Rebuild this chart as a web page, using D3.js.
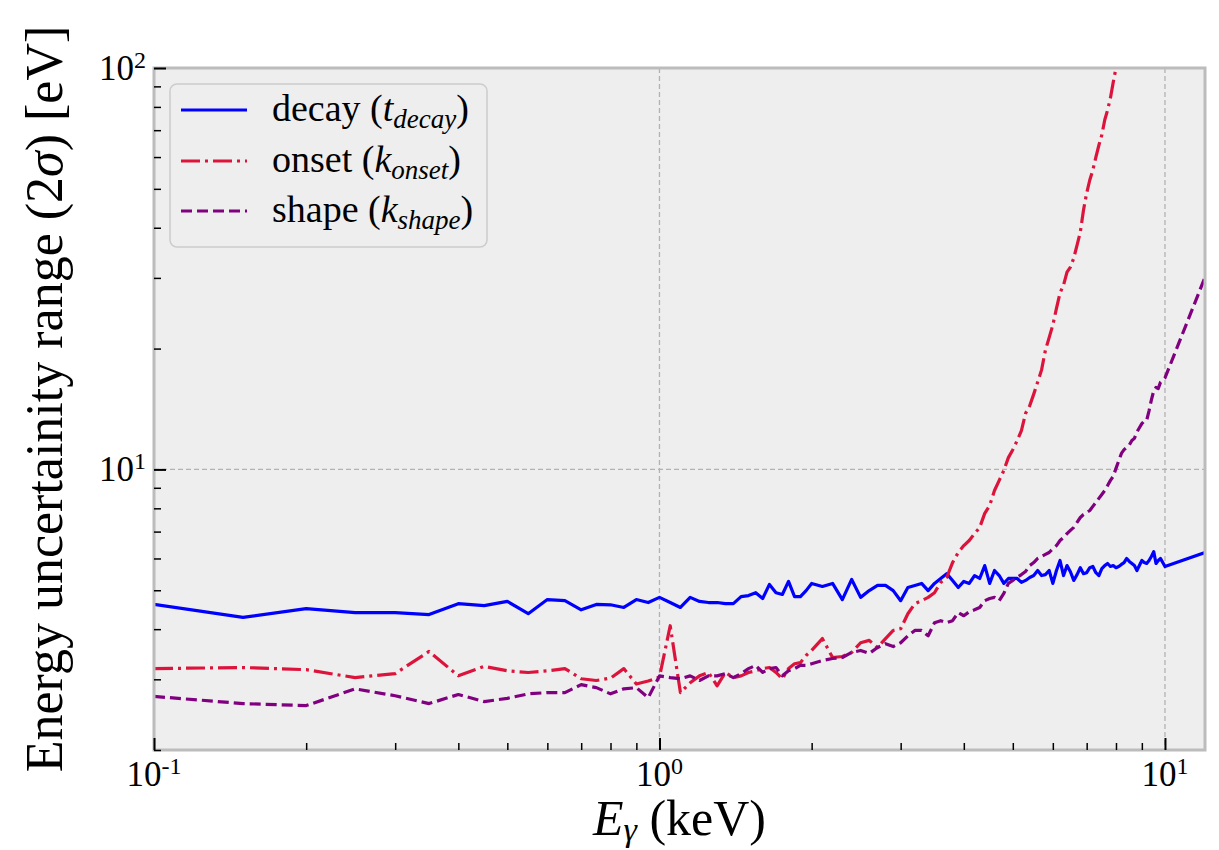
<!DOCTYPE html>
<html>
<head>
<meta charset="utf-8">
<script src="https://cdn.jsdelivr.net/npm/d3@7/dist/d3.min.js"></script>
<style>
  html, body { margin: 0; padding: 0; background: #ffffff; }
  svg { display: block; }
  text { font-family: "Liberation Serif", "Times New Roman", serif; fill: #000; }
</style>
</head>
<body>
<svg id="chart" width="1219" height="850"></svg>
<script>
// Photon energy grid (keV)
const energy = [
  0.1, 0.15, 0.2, 0.25, 0.3, 0.35, 0.4, 0.45, 0.5, 0.55, 0.6, 0.65, 0.7, 0.75, 0.8, 0.85, 0.9, 0.95,
  1.0, 1.05, 1.1, 1.15, 1.2, 1.25, 1.3, 1.35, 1.4, 1.45, 1.5, 1.55, 1.6, 1.65, 1.7, 1.75, 1.8, 1.85, 1.9, 1.95, 2.0,
  2.1, 2.2, 2.3, 2.4, 2.5, 2.6, 2.7, 2.8, 2.9, 3.0, 3.1, 3.2, 3.3, 3.4, 3.5, 3.6, 3.7, 3.8, 3.9, 4.0,
  4.1, 4.2, 4.3, 4.4, 4.5, 4.6, 4.7, 4.8, 4.9, 5.0, 5.1, 5.2, 5.3, 5.4, 5.5, 5.6, 5.7, 5.8, 5.9, 6.0,
  6.1, 6.2, 6.3, 6.4, 6.5, 6.6, 6.7, 6.8, 6.9, 7.0, 7.1, 7.2, 7.3, 7.4, 7.5, 7.6, 7.7, 7.8, 7.9, 8.0,
  8.1, 8.2, 8.3, 8.4, 8.5, 8.6, 8.7, 8.8, 8.9, 9.0, 9.1, 9.2, 9.3, 9.4, 9.5, 9.6, 9.7, 9.8, 9.9, 10.0,
  12.0
];

// 2-sigma energy uncertainty range (eV) from the decay-time parameter
const decayRange = [
  4.61, 4.28, 4.50, 4.40, 4.40, 4.35, 4.63, 4.58, 4.69, 4.37, 4.74, 4.71, 4.47, 4.61, 4.60, 4.53, 4.74, 4.66,
  4.80, 4.66, 4.53, 4.80, 4.69, 4.66, 4.66, 4.63, 4.63, 4.82, 4.85, 4.93, 4.77, 5.17, 4.93, 4.88, 5.26, 4.82, 4.82, 4.99, 5.20,
  5.11, 5.20, 4.74, 5.32, 4.80, 4.99, 5.14, 5.14, 4.99, 4.71, 5.08, 5.14, 5.20, 4.99, 5.20, 5.35, 5.50, 5.29, 5.08, 5.26,
  5.20, 5.44, 5.35, 5.76, 5.20, 5.60, 5.44, 5.20, 5.35, 5.35, 5.35, 5.23, 5.29, 5.38, 5.44, 5.60, 5.44, 5.47, 5.60, 5.20,
  5.60, 5.93, 5.44, 5.76, 5.56, 5.29, 5.47, 5.69, 5.50, 5.53, 5.69, 5.73, 5.53, 5.44, 5.66, 5.76, 5.83, 5.73, 5.76, 5.69,
  5.73, 5.80, 5.86, 6.00, 5.90, 5.83, 5.76, 5.60, 5.76, 5.93, 5.86, 5.83, 5.93, 6.07, 6.24, 5.83, 5.93, 6.00, 5.86, 5.73,
  6.21
];

// 2-sigma energy uncertainty range (eV) from the onset parameter
const onsetRange = [
  3.19, 3.21, 3.17, 3.03, 3.10, 3.52, 3.06, 3.23, 3.15, 3.12, 3.15, 3.19, 3.01, 2.98, 3.02, 3.19, 2.92, 2.97,
  3.04, 4.08, 2.78, 2.94, 3.06, 3.12, 2.89, 3.12, 3.03, 3.06, 3.12, 3.15, 3.19, 3.21, 3.12, 3.01, 3.19, 3.28, 3.30, 3.44, 3.54,
  3.79, 3.40, 3.42, 3.50, 3.70, 3.75, 3.60, 3.79, 3.97, 4.01, 4.37, 4.63, 4.71, 4.80, 4.93, 5.23, 5.38, 5.86, 6.21, 6.46,
  6.65, 6.92, 7.17, 7.77, 8.13, 8.86, 9.39, 9.94, 10.7, 11.2, 11.8, 12.5, 13.8, 14.4, 15.4, 16.5, 17.7, 19.8, 21.3, 22.9,
  25.2, 27.5, 28.8, 31.0, 31.9, 33.6, 36.2, 39.0, 44.3, 48.8, 52.6, 55.7, 60.0, 64.2, 68.1, 74.2, 78.6, 84.2, 92.2, 100,
  109, null, null, null, null, null, null, null, null, null, null, null, null, null, null, null, null, null, null, null,
  null
];

// 2-sigma energy uncertainty range (eV) from the shape parameter
const shapeRange = [
  2.72, 2.61, 2.58, 2.84, 2.73, 2.61, 2.75, 2.64, 2.69, 2.76, 2.78, 2.78, 2.91, 2.86, 2.76, 2.84, 2.86, 2.70,
  3.06, 3.03, 3.01, 3.06, 2.98, 3.06, 3.06, 3.10, 3.03, 3.10, 3.19, 3.25, 3.12, 3.19, 3.21, 3.06, 3.15, 3.19, 3.25, 3.25, 3.28,
  3.34, 3.38, 3.40, 3.50, 3.54, 3.48, 3.60, 3.68, 3.62, 3.70, 3.85, 3.97, 3.97, 3.85, 4.15, 4.20, 4.15, 4.20, 4.40, 4.32,
  4.42, 4.47, 4.53, 4.71, 4.77, 4.80, 4.71, 4.91, 5.20, 5.29, 5.38, 5.47, 5.57, 5.76, 5.86, 6.00, 6.07, 6.14, 6.21, 6.35,
  6.46, 6.65, 6.77, 6.92, 7.05, 7.17, 7.38, 7.59, 7.72, 7.81, 7.90, 8.09, 8.27, 8.47, 8.66, 8.86, 9.12, 9.39, 9.61, 10.06,
  10.5, 10.96, 11.2, 11.35, 11.5, 11.8, 11.95, 12.4, 12.7, 13.0, 13.2, 13.25, 14.0, 14.9, 15.7, 16.0, 15.9, 16.5, 16.7, 16.9,
  30.1
];

// Series descriptions for the legend: label, parameter symbol and subscript
const seriesNames = ["decay", "onset", "shape"];
const seriesSymbols = ["t", "k", "k"];
const seriesSubscripts = ["decay", "onset", "shape"];

// Axis ticks
const xMajorTicks = [0.1, 1, 10];
const xMinorTicks = [0.2, 0.3, 0.4, 0.5, 0.6, 0.7, 0.8, 0.9, 2, 3, 4, 5, 6, 7, 8, 9];
const xTickExponents = ["-1", "0", "1"];
const yMajorTicks = [10, 100];
const yMinorTicks = [2, 3, 4, 5, 6, 7, 8, 9, 20, 30, 40, 50, 60, 70, 80, 90];
const yTickExponents = ["1", "2"];

const svg = d3.select("#chart");
const plot = { left: 154, right: 1205, top: 68, bottom: 750 };

const x = d3.scaleLog().domain([0.1, 12]).range([plot.left, plot.right]);
const y = d3.scaleLog().domain([2, 100]).range([plot.bottom, plot.top]);

// Axes background
svg.append("rect")
  .attr("x", plot.left).attr("y", plot.top)
  .attr("width", plot.right - plot.left).attr("height", plot.bottom - plot.top)
  .attr("fill", "#eeeeee");

// Major grid, dashed
const grid = svg.append("g").attr("stroke", "#b2b2b2").attr("stroke-width", 1.3).attr("stroke-dasharray", "5,3");
xMajorTicks.forEach(v => grid.append("line")
  .attr("x1", x(v)).attr("x2", x(v)).attr("y1", plot.top).attr("y2", plot.bottom));
yMajorTicks.forEach(v => grid.append("line")
  .attr("x1", plot.left).attr("x2", plot.right).attr("y1", y(v)).attr("y2", y(v)));

// Clip region for the curves
svg.append("defs").append("clipPath").attr("id", "plotClip")
  .append("rect")
  .attr("x", plot.left).attr("y", plot.top)
  .attr("width", plot.right - plot.left).attr("height", plot.bottom - plot.top);

const series = [
  { values: decayRange, color: "#0000ff", dash: null },
  { values: onsetRange, color: "#dc143c", dash: "19,5,3,5" },
  { values: shapeRange, color: "#800080", dash: "11,5" }
];

const line = d3.line()
  .defined(d => d[1] != null)
  .x(d => x(d[0]))
  .y(d => y(d[1]));

const curves = svg.append("g").attr("clip-path", "url(#plotClip)");
series.forEach(s => {
  curves.append("path")
    .datum(energy.map((e, i) => [e, s.values[i]]))
    .attr("d", line)
    .attr("fill", "none")
    .attr("stroke", s.color)
    .attr("stroke-width", 3.2)
    .attr("stroke-linejoin", "round")
    .attr("stroke-dasharray", s.dash);
});

// Frame
svg.append("rect")
  .attr("x", plot.left).attr("y", plot.top)
  .attr("width", plot.right - plot.left).attr("height", plot.bottom - plot.top)
  .attr("fill", "none").attr("stroke", "#bcbcbc").attr("stroke-width", 3);

// Inward ticks drawn with d3 axes
function styleAxis(g, width) {
  g.select(".domain").remove();
  g.selectAll(".tick line").attr("stroke", "#000").attr("stroke-width", width);
}
svg.append("g").attr("transform", `translate(0,${plot.bottom})`)
  .call(d3.axisBottom(x).tickValues(xMajorTicks).tickSize(-12).tickFormat(""))
  .call(g => styleAxis(g, 2));
svg.append("g").attr("transform", `translate(0,${plot.bottom})`)
  .call(d3.axisBottom(x).tickValues(xMinorTicks).tickSize(-7).tickFormat(""))
  .call(g => styleAxis(g, 1.5));
svg.append("g").attr("transform", `translate(${plot.left},0)`)
  .call(d3.axisLeft(y).tickValues(yMajorTicks).tickSize(-12).tickFormat(""))
  .call(g => styleAxis(g, 2));
svg.append("g").attr("transform", `translate(${plot.left},0)`)
  .call(d3.axisLeft(y).tickValues(yMinorTicks).tickSize(-7).tickFormat(""))
  .call(g => styleAxis(g, 1.5));

// Tick labels as powers of ten
function powerLabel(sel, exp) {
  sel.append("tspan").text("10");
  sel.append("tspan").attr("font-size", 24).attr("dy", -12).text(exp);
}
xMajorTicks.forEach((v, i) => {
  const t = svg.append("text")
    .attr("x", x(v)).attr("y", 786)
    .attr("text-anchor", "middle").attr("font-size", 35);
  powerLabel(t, xTickExponents[i]);
});
yMajorTicks.forEach((v, i) => {
  const t = svg.append("text")
    .attr("x", 146).attr("y", y(v) + 12)
    .attr("text-anchor", "end").attr("font-size", 35);
  powerLabel(t, yTickExponents[i]);
});

// Axis titles
const xTitle = svg.append("text")
  .attr("x", (plot.left + plot.right) / 2).attr("y", 835)
  .attr("text-anchor", "middle").attr("font-size", 50);
xTitle.append("tspan").attr("font-style", "italic").text("E");
xTitle.append("tspan").attr("font-style", "italic").attr("font-size", 34).attr("dy", 6).text("γ");
xTitle.append("tspan").attr("dy", -6).text(" (keV)");

const yTitle = svg.append("text")
  .attr("transform", `translate(62,399) rotate(-90)`)
  .attr("text-anchor", "middle").attr("font-size", 52);
yTitle.append("tspan").text("Energy uncertainity range (2");
yTitle.append("tspan").attr("font-style", "italic").text("σ");
yTitle.append("tspan").text(") [eV]");

// Legend
const legend = svg.append("g");
legend.append("rect")
  .attr("x", 170).attr("y", 84).attr("width", 317).attr("height", 163)
  .attr("rx", 7).attr("ry", 7)
  .attr("fill", "#eeeeee").attr("fill-opacity", 0.8)
  .attr("stroke", "#cccccc").attr("stroke-width", 1.5);
const rowY = [110, 161, 211];
series.forEach((s, i) => {
  legend.append("line")
    .attr("x1", 181).attr("x2", 247).attr("y1", rowY[i]).attr("y2", rowY[i])
    .attr("stroke", s.color).attr("stroke-width", 3.2)
    .attr("stroke-dasharray", s.dash);
  const t = legend.append("text")
    .attr("x", 272).attr("y", rowY[i] + 11).attr("font-size", 38);
  t.append("tspan").text(seriesNames[i] + " (");
  t.append("tspan").attr("font-style", "italic").text(seriesSymbols[i]);
  t.append("tspan").attr("font-style", "italic").attr("font-size", 27).attr("dy", 7).text(seriesSubscripts[i]);
  t.append("tspan").attr("dy", -7).text(")");
});
</script>
</body>
</html>
